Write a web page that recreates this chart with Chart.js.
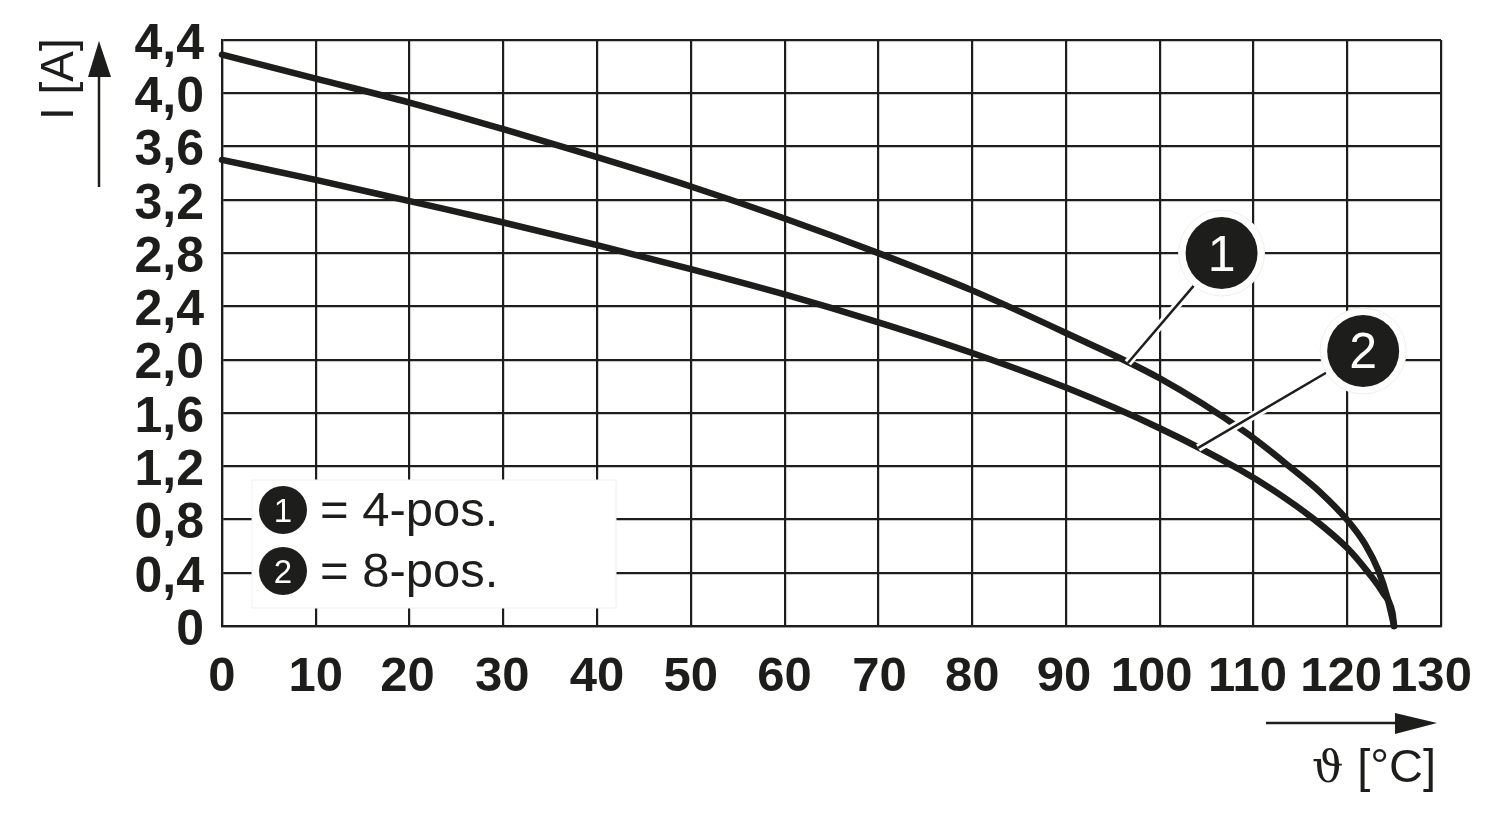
<!DOCTYPE html>
<html>
<head>
<meta charset="utf-8">
<title>I [A] over temperature</title>
<script src="https://cdn.jsdelivr.net/npm/chart.js@4/dist/chart.umd.min.js"></script>
<style>
    html, body { margin: 0; padding: 0; background: #fff; }
    canvas { display: block; }
</style>
</head>
<body>
<canvas id="chart" width="1500" height="820"></canvas>
<script>
// Values
const xTicks = [0, 10, 20, 30, 40, 50, 60, 70, 80, 90, 100, 110, 120, 130];
const yTicks = [0, 0.4, 0.8, 1.2, 1.6, 2.0, 2.4, 2.8, 3.2, 3.6, 4.0, 4.4];
const yTickLabels = ['0', '0,4', '0,8', '1,2', '1,6', '2,0', '2,4', '2,8', '3,2', '3,6', '4,0', '4,4'];

const temp4pos = [0, 10, 20, 30, 40, 50, 60, 70, 80, 90, 100, 109.1, 113.9, 117.1, 120, 121.9, 123.3, 124.3, 125];
const amps4pos = [4.29, 4.11, 3.93, 3.73, 3.52, 3.3, 3.06, 2.8, 2.52, 2.2, 1.86, 1.457, 1.194, 1.006, 0.796, 0.615, 0.42, 0.21, 0];
const temp8pos = [0, 10, 20, 30, 40, 50, 60, 70, 80, 90, 100, 108.6, 112.1, 116.3, 120, 122.2, 123.8, 124.8, 125];
const amps8pos = [3.5, 3.35, 3.19, 3.03, 2.86, 2.68, 2.49, 2.28, 2.05, 1.79, 1.485, 1.171, 1.02, 0.81, 0.585, 0.405, 0.25, 0.105, 0];

const legendLabels = ['= 4-pos.', '= 8-pos.'];
const curveNumbers = ['1', '2'];
// callout bubble centre and the point its leader touches, in chart units
const calloutCentres = [[106.6, 2.8], [121.7, 2.065]];
const calloutEnds = [[96.6, 1.975], [104.1, 1.337]];

const INK = '#1d1d1b';
const SANS = '"Liberation Sans", Arial, sans-serif';

// the wide labels on the right sit left of their grid lines in the original
const xLabelShift = [0, 0, -2, -1, 0, 0, 0, 1, 0, -2, -8, -6, -6, -10];

function toPoints(xs, ys) {
    return xs.map((x, i) => ({ x: x, y: ys[i] }));
}

function badge(ctx, x, y, r, text, fontSize) {
    ctx.fillStyle = INK;
    ctx.beginPath();
    ctx.arc(x, y, r, 0, Math.PI * 2);
    ctx.fill();
    ctx.fillStyle = '#fff';
    ctx.font = fontSize + 'px ' + SANS;
    ctx.textAlign = 'center';
    ctx.textBaseline = 'alphabetic';
    ctx.fillText(text, x, y + fontSize * 0.35);
}

function arrowHead(ctx, tipX, tipY, x1, y1, x2, y2) {
    ctx.fillStyle = INK;
    ctx.beginPath();
    ctx.moveTo(tipX, tipY);
    ctx.lineTo(x1, y1);
    ctx.lineTo(x2, y2);
    ctx.closePath();
    ctx.fill();
}

// Everything around the curves: x labels, axis arrows, axis names, legend box and callouts
const decorations = {
    id: 'decorations',
    afterDatasetsDraw(chart) {
        const ctx = chart.ctx;
        const sx = chart.scales.x;
        const sy = chart.scales.y;
        ctx.save();

        // x tick labels
        ctx.fillStyle = INK;
        ctx.font = 'bold 49px ' + SANS;
        ctx.textAlign = 'center';
        ctx.textBaseline = 'alphabetic';
        xTicks.forEach((tick, i) => {
            ctx.fillText(String(tick), sx.getPixelForValue(tick) + xLabelShift[i], 691);
        });

        // y axis arrow and name
        ctx.strokeStyle = INK;
        ctx.lineWidth = 2.5;
        ctx.beginPath();
        ctx.moveTo(99, 187);
        ctx.lineTo(99, 70);
        ctx.stroke();
        arrowHead(ctx, 99, 41, 88, 77, 111, 77);

        ctx.fillStyle = INK;
        ctx.font = '46px ' + SANS;
        ctx.textAlign = 'left';
        ctx.save();
        ctx.translate(73, 120);
        ctx.rotate(-Math.PI / 2);
        ctx.fillText('I [A]', 0, 0);
        ctx.restore();

        // x axis arrow and name
        ctx.beginPath();
        ctx.moveTo(1266, 723);
        ctx.lineTo(1400, 723);
        ctx.stroke();
        arrowHead(ctx, 1437, 723, 1395, 713, 1395, 734);

        ctx.fillStyle = INK;
        ctx.font = '44px "DejaVu Serif", "Liberation Serif", serif';
        ctx.textAlign = 'left';
        ctx.fillText('ϑ', 1312, 782);
        ctx.font = '47px ' + SANS;
        ctx.textAlign = 'right';
        ctx.fillText('[°C]', 1436, 782);

        // legend box sits over the grid
        ctx.fillStyle = '#fff';
        ctx.fillRect(252, 480, 364, 128);
        ctx.strokeStyle = '#efefef';
        ctx.lineWidth = 1;
        ctx.strokeRect(252, 480, 364, 128);
        legendLabels.forEach((label, i) => {
            const rowY = 510 + i * 61;
            badge(ctx, 283, rowY, 24, curveNumbers[i], 33);
            ctx.fillStyle = INK;
            ctx.font = '49px ' + SANS;
            ctx.textAlign = 'left';
            ctx.textBaseline = 'alphabetic';
            ctx.fillText(label, 320, rowY + 16);
        });

        // callouts with white halo
        calloutCentres.forEach((c, i) => {
            const cx = sx.getPixelForValue(c[0]);
            const cy = sy.getPixelForValue(c[1]);
            const ex = sx.getPixelForValue(calloutEnds[i][0]);
            const ey = sy.getPixelForValue(calloutEnds[i][1]);
            ctx.lineCap = 'butt';
            ctx.strokeStyle = '#fff';
            ctx.lineWidth = 8;
            ctx.beginPath();
            ctx.moveTo(cx, cy);
            ctx.lineTo(ex, ey);
            ctx.stroke();
            ctx.strokeStyle = INK;
            ctx.lineWidth = 2.5;
            ctx.beginPath();
            ctx.moveTo(cx, cy);
            ctx.lineTo(ex, ey);
            ctx.stroke();
            ctx.fillStyle = '#fff';
            ctx.strokeStyle = '#eeeeee';
            ctx.lineWidth = 1;
            ctx.beginPath();
            ctx.arc(cx, cy, 43, 0, Math.PI * 2);
            ctx.fill();
            ctx.stroke();
            badge(ctx, cx, cy, 36, curveNumbers[i], 50);
        });

        ctx.restore();
    }
};

const curveStyle = {
    borderColor: INK,
    borderWidth: 6.5,
    borderCapStyle: 'round',
    borderJoinStyle: 'round',
    cubicInterpolationMode: 'monotone',
    pointRadius: 0,
    fill: false,
    clip: false
};

new Chart(document.getElementById('chart').getContext('2d'), {
    type: 'line',
    data: {
        datasets: [
            Object.assign({ label: '4-pos.', data: toPoints(temp4pos, amps4pos) }, curveStyle),
            Object.assign({ label: '8-pos.', data: toPoints(temp8pos, amps8pos) }, curveStyle)
        ]
    },
    options: {
        responsive: false,
        animation: false,
        layout: { padding: { top: 40, right: 59, left: 0, bottom: 0 } },
        plugins: {
            legend: { display: false },
            title: { display: false },
            tooltip: { enabled: false }
        },
        scales: {
            x: {
                type: 'linear',
                min: 0,
                max: 130,
                afterFit: scale => { scale.height = 194; },
                afterBuildTicks: scale => { scale.ticks = xTicks.map(v => ({ value: v })); },
                grid: { color: INK, lineWidth: 2.2, drawTicks: false },
                border: { color: INK, width: 2.2 },
                ticks: { display: false }
            },
            y: {
                min: 0,
                max: 4.4,
                afterFit: scale => {
                    scale.width = 222;
                    scale.paddingTop = 0;
                    scale.paddingBottom = 0;
                },
                afterBuildTicks: scale => { scale.ticks = yTicks.map(v => ({ value: v })); },
                grid: { color: INK, lineWidth: 2.2, drawTicks: false },
                border: { color: INK, width: 2.2 },
                ticks: {
                    autoSkip: false,
                    padding: 18,
                    labelOffset: 5,
                    color: INK,
                    font: { family: SANS, size: 50, weight: 'bold' },
                    callback: value => yTickLabels[yTicks.indexOf(value)]
                }
            }
        }
    },
    plugins: [decorations]
});
</script>
</body>
</html>
